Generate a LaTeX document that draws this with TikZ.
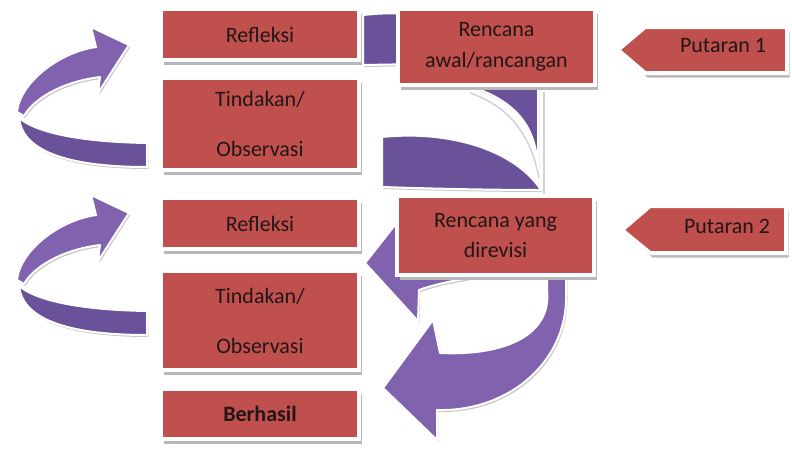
\documentclass[tikz,border=0pt]{standalone}
\usepackage{fontspec}
\setmainfont{Carlito}
\usetikzlibrary{shadows}
\definecolor{boxred}{RGB}{192,80,77}
\definecolor{pfront}{RGB}{128,98,174}
\definecolor{pback}{RGB}{106,82,154}
\definecolor{txt}{RGB}{35,22,22}
\tikzset{
  redbox/.style={rectangle, fill=boxred, draw=white, line width=3pt, text=txt,
    align=center, inner sep=0pt, font=\fontsize{16.5}{23}\selectfont,
    drop shadow={shadow xshift=2pt, shadow yshift=-3.5pt, fill=black!28, opacity=1}},
  tallbox/.style={redbox, font=\fontsize{16.5}{37.5}\selectfont},
  ribbon/.style={draw=white, line width=1.5pt, line join=round,
    drop shadow={shadow xshift=1pt, shadow yshift=-1.5pt, fill=black!22, opacity=1}},
  edgeline/.style={black!18, line width=1.1pt},
  plain/.style={text=txt, font=\fontsize{16.5}{23}\selectfont, inner sep=0pt},
}
\begin{document}
\begin{tikzpicture}[x=0.75pt,y=-0.75pt]
\useasboundingbox (0,0) rectangle (792,461);
% ---- middle ribbons (behind boxes)
\path[ribbon, fill=pback] (363,15) .. controls (385,13) .. (420,14) -- (420,64) -- (363,65) -- cycle;
\draw[edgeline] (470,93) .. controls (505,105) and (530,130) .. (539,178);
\draw[edgeline] (544,92) -- (544,196);
\path[ribbon, fill=pback] (478,85) -- (538,85) -- (538,168) .. controls (536,130) and (520,105) .. (478,89) -- cycle;
\path[ribbon, fill=pback] (382,137) .. controls (450,130) and (515,150) .. (541,190)
  .. controls (500,190) and (440,189) .. (382,187) -- cycle;
\path[ribbon, fill=pfront] (365,263) -- (395,225) -- (470,215) -- (470,278)
  .. controls (445,282) and (430,286) .. (419,290) -- (418,321) -- cycle;
\path[ribbon, fill=pfront] (547,270) -- (566,270) -- (566,290) .. controls (570,360) and (510,412) .. (437,410)
  -- (437,440) -- (383,388) -- (433,320) -- (440,353) .. controls (505,356) and (552,335) .. (547,290) -- cycle;
% ---- boxes
\node[redbox, minimum width={198*0.75pt}, minimum height={51*0.75pt}] (refl1) at (260,34.5) {Refleksi};
\node[tallbox, minimum width={198*0.75pt}, minimum height={92*0.75pt}] (tind1) at (260,124) {Tindakan/\\Observasi};
\node[redbox, minimum width={197*0.75pt}, minimum height={76*0.75pt}] (renc1) at (496.5,47) {Rencana\\awal/rancangan};
\node[redbox, minimum width={198*0.75pt}, minimum height={51*0.75pt}] (refl2) at (260,223.5) {Refleksi};
\node[redbox, minimum width={197*0.75pt}, minimum height={79*0.75pt}] (rev) at (495.5,235.5) {Rencana yang\\direvisi};
\node[tallbox, minimum width={198*0.75pt}, minimum height={99*0.75pt}] (tind2) at (260,320.5) {Tindakan/\\Observasi};
\node[redbox, minimum width={198*0.75pt}, minimum height={50*0.75pt}, font=\fontsize{16.5}{23}\selectfont\bfseries] (berh) at (260,414) {Berhasil};
% ---- Putaran tags
\path[redbox] (618,50) -- (645,27) -- (787,27) -- (787,73) -- (645,73) -- cycle;
\node[plain] (put1) at (723,45) {Putaran 1};
\path[redbox] (622,230) -- (650,206) -- (786,206) -- (786,253) -- (650,253) -- cycle;
\node[plain] (put2) at (727,226) {Putaran 2};
% ---- left loop arrows
\foreach \dy in {0,168}{
\begin{scope}[shift={(0,\dy)}]
\path[ribbon, fill=pback] (147,143) .. controls (90,142) and (40,135) .. (19,118)
  .. controls (22,148) and (60,167) .. (147,167) -- cycle;
\path[ribbon, fill=pfront] (100,77) -- (98,93) -- (129,45) -- (91,27) -- (96,47)
  .. controls (60,52) and (20,82) .. (17,112) -- (24,116) .. controls (33,100) and (60,82) .. (100,77) -- cycle;
\end{scope}}
\end{tikzpicture}
\end{document}
